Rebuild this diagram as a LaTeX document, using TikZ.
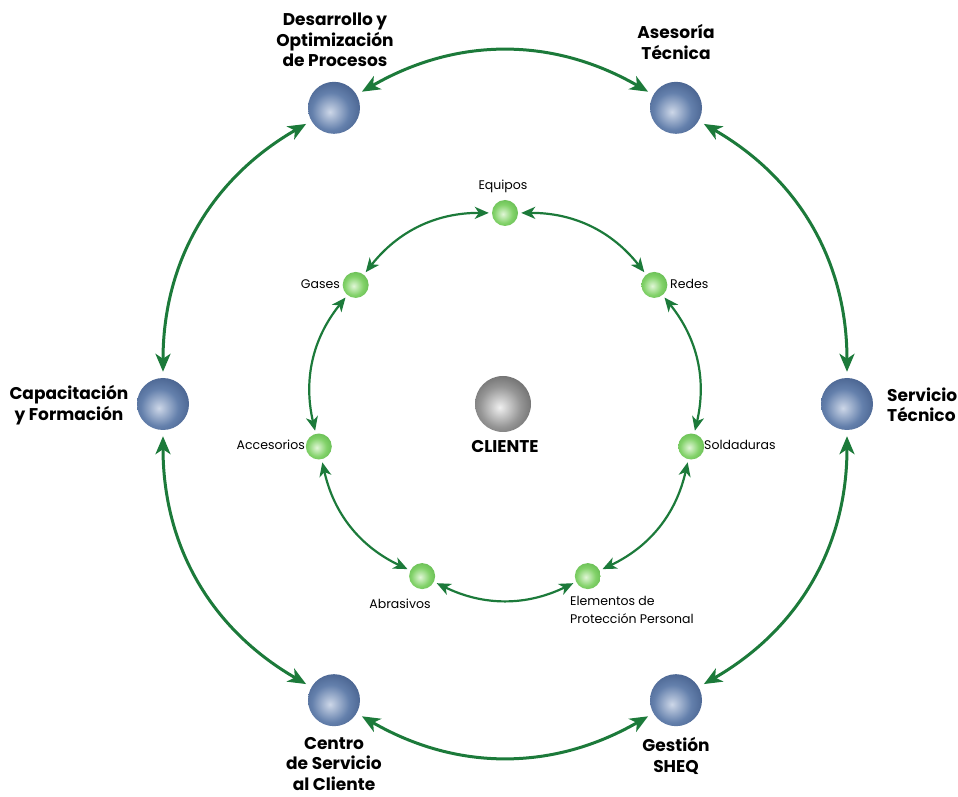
\documentclass[tikz,border=0pt]{standalone}
\usepackage{fontspec}
\setmainfont{Poppins}
\usetikzlibrary{arrows.meta,shadings}
\definecolor{arrowgreen}{RGB}{28,122,58}
\definecolor{bLight}{RGB}{205,215,232}
\definecolor{bMid}{RGB}{100,128,172}
\definecolor{bDark}{RGB}{55,80,125}
\definecolor{bRim}{RGB}{35,52,92}
\definecolor{gLight}{RGB}{225,246,215}
\definecolor{gMid}{RGB}{130,210,105}
\definecolor{gDark}{RGB}{80,170,65}
\definecolor{gRim}{RGB}{55,125,45}
\definecolor{kLight}{RGB}{240,240,240}
\definecolor{kMid}{RGB}{150,150,150}
\definecolor{kDark}{RGB}{75,75,75}
\definecolor{kRim}{RGB}{30,30,30}
\pgfdeclareradialshading{blueball}{\pgfpoint{-4bp}{-4bp}}{color(0bp)=(bLight); color(18bp)=(bMid); color(38bp)=(bDark); color(50bp)=(bRim); color(100bp)=(bRim)}
\pgfdeclareradialshading{greenball}{\pgfpoint{-4bp}{-2bp}}{color(0bp)=(gLight); color(18bp)=(gMid); color(40bp)=(gDark); color(50bp)=(gRim); color(100bp)=(gRim)}
\pgfdeclareradialshading{grayball}{\pgfpoint{-3bp}{-3bp}}{color(0bp)=(kLight); color(18bp)=(kMid); color(40bp)=(kDark); color(50bp)=(kRim); color(100bp)=(kRim)}
\begin{document}
\begin{tikzpicture}[x=1pt,y=1pt,
  bigball/.style={circle, minimum size=52pt, inner sep=0pt, shading=blueball},
  smallball/.style={circle, minimum size=26pt, inner sep=0pt, shading=greenball},
  centerball/.style={circle, minimum size=56pt, inner sep=0pt, shading=grayball},
  biglabel/.style={font=\bfseries\fontsize{17}{20.5}\selectfont, align=center, inner sep=0pt},
  smalllabel/.style={font=\fontsize{12.5}{18}\selectfont, inner sep=0pt},
  outerarrow/.style={draw=arrowgreen, line width=3pt,
    {Stealth[length=18pt,width=15pt,inset=5pt]}-{Stealth[length=18pt,width=15pt,inset=5pt]},
    shorten <=6pt, shorten >=6pt},
  innerarrow/.style={draw=arrowgreen, line width=2.2pt,
    {Stealth[length=14pt,width=12pt,inset=4pt]}-{Stealth[length=14pt,width=12pt,inset=4pt]},
    shorten <=3pt, shorten >=3pt},
]
\useasboundingbox (0,0) rectangle (958,796);
\coordinate (C) at (505,392);
% outer ring
\node[bigball] (dev) at ([shift={(120:342)}]C) {};
\node[bigball] (ase) at ([shift={(60:342)}]C) {};
\node[bigball] (ser) at ([shift={(0:342)}]C) {};
\node[bigball] (ges) at ([shift={(-60:342)}]C) {};
\node[bigball] (cen) at ([shift={(-120:342)}]C) {};
\node[bigball] (cap) at ([shift={(180:342)}]C) {};
% inner ring
\node[smallball] (equ) at ([shift={(90:191)}]C) {};
\node[smallball] (red) at ([shift={(38.57:191)}]C) {};
\node[smallball] (sol) at ([shift={(-12.86:191)}]C) {};
\node[smallball] (ele) at ([shift={(-64.29:191)}]C) {};
\node[smallball] (abr) at ([shift={(-115.71:191)}]C) {};
\node[smallball] (acc) at ([shift={(-167.14:191)}]C) {};
\node[smallball] (gas) at ([shift={(141.43:191)}]C) {};
% center
\node[centerball] (cli) at (503,392) {};
% labels
\node[biglabel] (tdev) at (335,756) {Desarrollo y\\Optimización\\de Procesos};
\node[biglabel] (tase) at (676,754) {Asesoría\\Técnica};
\node[biglabel, align=left, anchor=west] (tser) at (887,391) {Servicio\\Técnico};
\node[biglabel] (tcap) at (69,391) {Capacitación\\y Formación};
\node[biglabel] (tcen) at (334,32) {Centro\\de Servicio\\al Cliente};
\node[biglabel] (tges) at (676,40) {Gestión\\SHEQ};
\node[biglabel] (tcli) at (505,349) {CLIENTE};
\node[smalllabel] (tequ) at (503,610) {Equipos};
\node[smalllabel, anchor=east] (tgas) at (340,512) {Gases};
\node[smalllabel, anchor=west] (tred) at (670,512) {Redes};
\node[smalllabel, anchor=west] (tsol) at (704,351) {Soldaduras};
\node[smalllabel, anchor=east] (tacc) at (305,351) {Accesorios};
\node[smalllabel] (tabr) at (400,192) {Abrasivos};
\node[smalllabel, anchor=west, align=left] (tele) at (570,186) {Elementos de\\Protección Personal};
% outer arrows
\draw[outerarrow] (dev) to[bend left=30] (ase);
\draw[outerarrow] (ase) to[bend left=30] (ser);
\draw[outerarrow] (ser) to[bend left=30] (ges);
\draw[outerarrow] (ges) to[bend left=30] (cen);
\draw[outerarrow] (cen) to[bend left=30] (cap);
\draw[outerarrow] (cap) to[bend left=30] (dev);
% inner arrows
\draw[innerarrow] (equ) to[bend left=26] (red);
\draw[innerarrow] (red) to[bend left=26] (sol);
\draw[innerarrow] (sol) to[bend left=26] (ele);
\draw[innerarrow] (ele) to[bend left=26] (abr);
\draw[innerarrow] (abr) to[bend left=26] (acc);
\draw[innerarrow] (acc) to[bend left=26] (gas);
\draw[innerarrow] (gas) to[bend left=26] (equ);
\end{tikzpicture}
\end{document}
